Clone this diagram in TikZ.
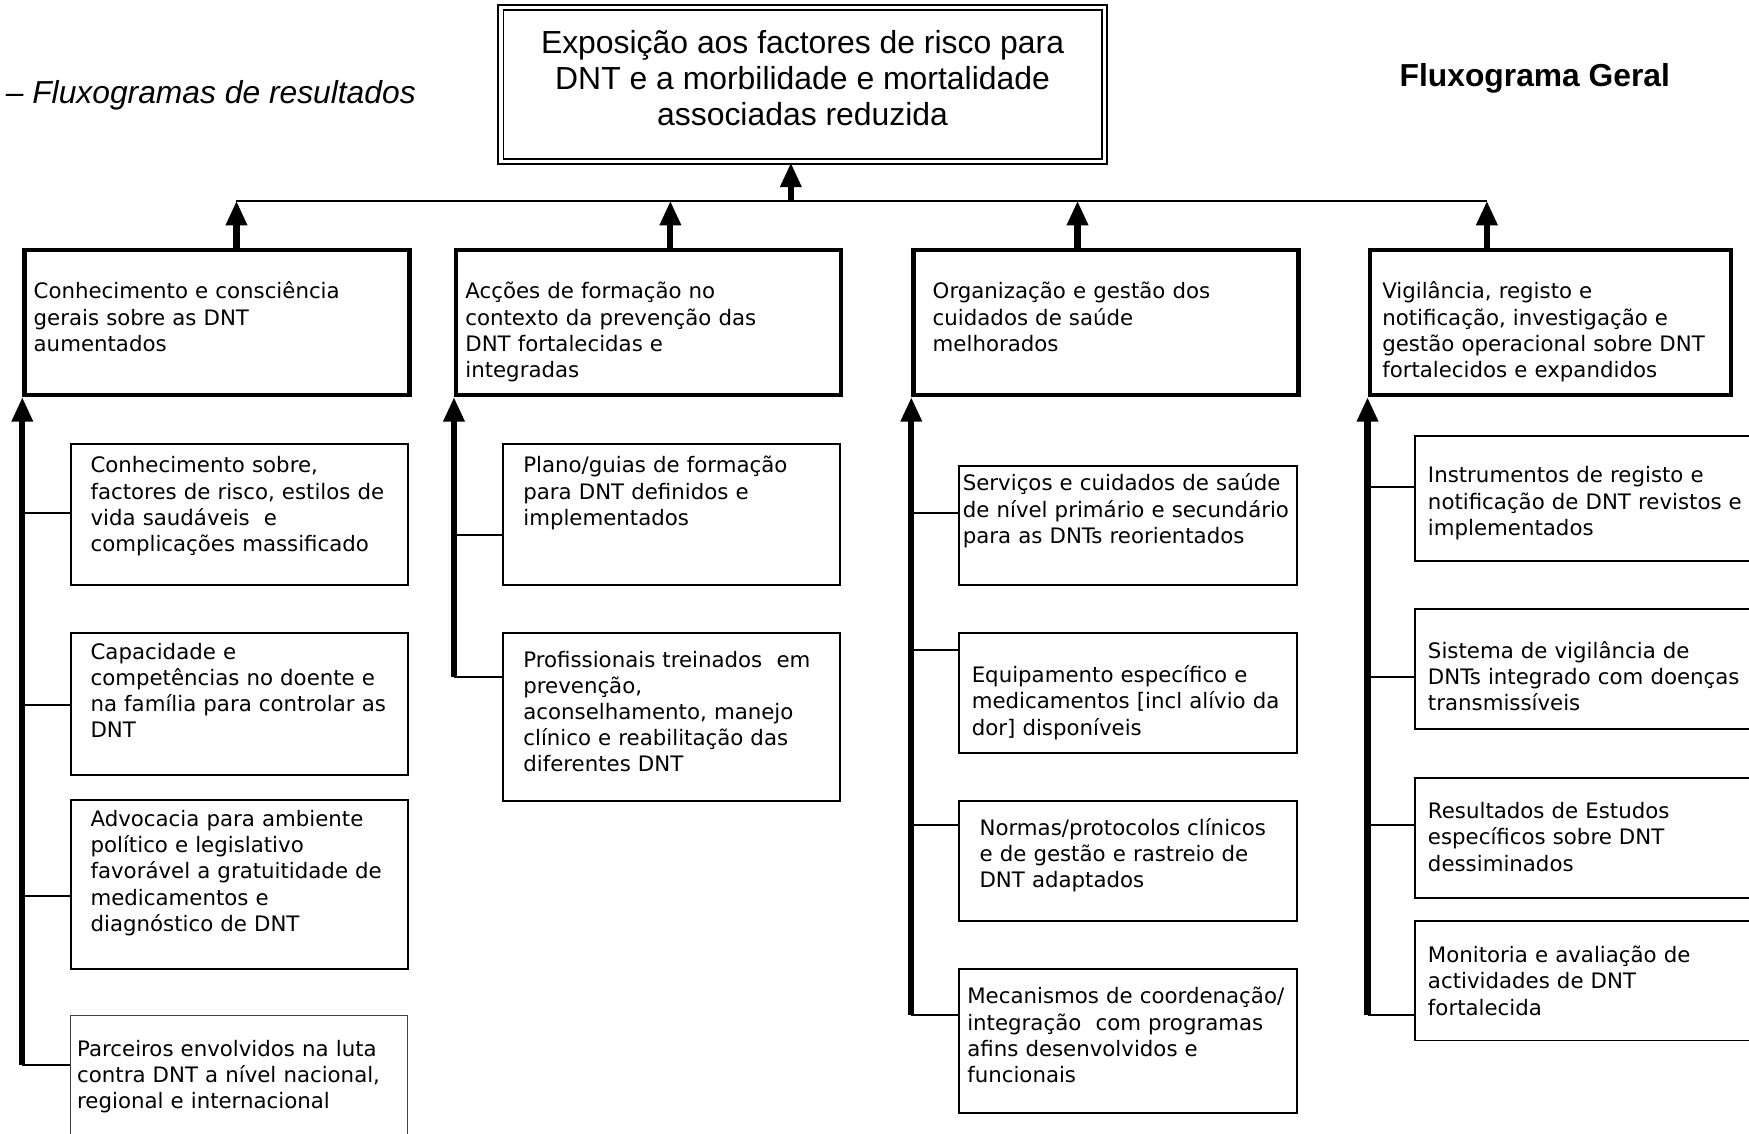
\documentclass[tikz,border=0pt]{standalone}
\usepackage{fontspec}
\setmainfont{DejaVu Sans}
\newfontfamily\arialfont{Liberation Sans}
\usetikzlibrary{arrows.meta, positioning}
\tikzset{
    x=1pt, y=-1pt, % page grid, y grows downwards
    uparrow/.style={ % thick arrows towards the results
        line width=5.5pt,
        -{Triangle[width=18pt,length=22pt]}
    },
    tie/.style={line width=1.8pt} % thin joins
}

\begin{document}
\begin{tikzpicture}
    \tikzset{
        goal/.style={draw,double,line width=1.5pt,double distance=3pt,minimum width=541,minimum height=138,inner sep=0pt},
        goaltxt/.style={align=center,inner sep=0pt,font=\arialfont\fontsize{28.6}{32.5}\selectfont},
        resbox/.style={draw,line width=4pt,anchor=north west,minimum width=345,minimum height=130,inner sep=0pt},
        outbox/.style={draw,line width=1.7pt,anchor=north west,minimum width=302,inner sep=0pt},
        txt/.style={anchor=base west,inner sep=0pt,text width=330,align=left,font=\fontsize{19.1}{23.5}\selectfont},
    }
    \useasboundingbox (0,0) rectangle (1568,1016);
    \clip (0,0) rectangle (1568,1016);
    \fill[white] (0,0) rectangle (1568,1016);

    \node[anchor=west,inner sep=0pt,font=\arialfont\itshape\fontsize{28.5}{34}\selectfont] (sub) at (5,85) {– Fluxogramas de resultados};
    \node[inner sep=0pt,font=\arialfont\bfseries\fontsize{28.5}{34}\selectfont] (head) at (1376,70) {Fluxograma Geral};

    \node[goal] (goal) at (719.5,76) {};
    \node[goaltxt] (goalt) at (719.5,70) {Exposição aos factores de risco para\\DNT e a morbilidade e mortalidade\\associadas reduzida};

    % results
    \node[resbox] (r1) at (20,222) {};
    \node[resbox] (r2) at (407,222) {};
    \node[resbox] (r3) at (817,222) {};
    \node[resbox,minimum width=324] (r4) at (1226,222) {};
    \node[txt] (r1t) at (30,268) {Conhecimento e consciência\\gerais sobre as DNT\\aumentados};
    \node[txt] (r2t) at (417,268) {Acções de formação no\\contexto da prevenção das\\DNT fortalecidas e\\integradas};
    \node[txt] (r3t) at (836,268) {Organização e gestão dos\\cuidados de saúde\\melhorados};
    \node[txt] (r4t) at (1239,268) {Vigilância, registo e\\notificação, investigação e\\gestão operacional sobre DNT\\fortalecidos e expandidos};

    % outputs, column 1
    \node[outbox,minimum height=127] (c1a) at (63,397) {};
    \node[outbox,minimum height=127] (c1b) at (63,567) {};
    \node[outbox,minimum height=152] (c1c) at (63,716) {};
    \node[outbox,minimum height=150,line width=1pt,draw=black!75] (c1d) at (63,910) {};
    \node[txt] (c1at) at (81,424) {Conhecimento sobre,\\factores de risco, estilos de\\vida saudáveis~ e\\complicações massificado};
    \node[txt] (c1bt) at (81,591) {Capacidade e\\competências no doente e\\na família para controlar as\\DNT};
    \node[txt] (c1ct) at (81,741) {Advocacia para ambiente\\político e legislativo\\favorável a gratuitidade de\\medicamentos e\\diagnóstico de DNT};
    \node[txt] (c1dt) at (69,947) {Parceiros envolvidos na luta\\contra DNT a nível nacional,\\regional e internacional};

    % outputs, column 2
    \node[outbox,minimum height=127] (c2a) at (450,397) {};
    \node[outbox,minimum height=150] (c2b) at (450,567) {};
    \node[txt] (c2at) at (469,424) {Plano/guias de formação\\para DNT definidos e\\implementados};
    \node[txt] (c2bt) at (469,598) {Profissionais treinados~ em\\prevenção,\\aconselhamento, manejo\\clínico e reabilitação das\\diferentes DNT};

    % outputs, column 3
    \node[outbox,minimum width=303,minimum height=107] (c3a) at (859,417) {};
    \node[outbox,minimum width=303,minimum height=107] (c3b) at (859,567) {};
    \node[outbox,minimum width=303,minimum height=108] (c3c) at (859,717) {};
    \node[outbox,minimum width=303,minimum height=129] (c3d) at (859,868) {};
    \node[txt] (c3at) at (863,440) {Serviços e cuidados de saúde\\de nível primário e secundário\\para as DNTs reorientados};
    \node[txt] (c3bt) at (871,612) {Equipamento específico e\\medicamentos [incl alívio da\\dor] disponíveis};
    \node[txt] (c3ct) at (878,749) {Normas/protocolos clínicos\\e de gestão e rastreio de\\DNT adaptados};
    \node[txt] (c3dt) at (867,900) {Mecanismos de coordenação/\\integração~ com programas\\afins desenvolvidos e\\funcionais};

    % outputs, column 4
    \node[outbox,minimum width=320,minimum height=112] (c4a) at (1268,390) {};
    \node[outbox,minimum width=320,minimum height=108] (c4b) at (1268,545) {};
    \node[outbox,minimum width=320,minimum height=107] (c4c) at (1268,697) {};
    \node[outbox,minimum width=320,minimum height=107] (c4d) at (1268,825) {};
    \node[txt] (c4at) at (1280,433) {Instrumentos de registo e\\notificação de DNT revistos e\\implementados};
    \node[txt] (c4bt) at (1280,590) {Sistema de vigilância de\\DNTs integrado com doenças\\transmissíveis};
    \node[txt] (c4ct) at (1280,734) {Resultados de Estudos\\específicos sobre DNT\\dessiminados};
    \node[txt] (c4dt) at (1280,863) {Monitoria e avaliação de\\actividades de DNT\\fortalecida};

    % top bar
    \coordinate (hub) at (709,180);
    \coordinate (j1) at (212,180);
    \coordinate (j2) at (601,180);
    \coordinate (j3) at (966,180);
    \coordinate (j4) at (1333,180);
    \draw[tie] (j1) -- (j4);
    \draw[uparrow] (hub) -- (hub |- goal.south);
    \draw[uparrow] (j1 |- r1.north) -- (j1);
    \draw[uparrow] (j2 |- r2.north) -- (j2);
    \draw[uparrow] (j3 |- r3.north) -- (j3);
    \draw[uparrow] (j4 |- r4.north) -- (j4);

    % spines
    \coordinate (k1a) at (20,460);
    \coordinate (k1b) at (20,632);
    \coordinate (k1c) at (20,803);
    \coordinate (k1d) at (20,955);
    \coordinate (k2a) at (407,480);
    \coordinate (k2b) at (407,607);
    \coordinate (k3a) at (817,460);
    \coordinate (k3b) at (817,583);
    \coordinate (k3c) at (817,740);
    \coordinate (k3d) at (817,910);
    \coordinate (k4a) at (1226,437);
    \coordinate (k4b) at (1226,607);
    \coordinate (k4c) at (1226,740);
    \coordinate (k4d) at (1226,910);
    \draw[tie] (k1a) -- (k1a -| c1a.west);
    \draw[tie] (k1b) -- (k1b -| c1b.west);
    \draw[tie] (k1c) -- (k1c -| c1c.west);
    \draw[tie] (k1d) -- (k1d -| c1d.west);
    \draw[tie] (k2a) -- (k2a -| c2a.west);
    \draw[tie] (k2b) -- (k2b -| c2b.west);
    \draw[tie] (k3a) -- (k3a -| c3a.west);
    \draw[tie] (k3b) -- (k3b -| c3b.west);
    \draw[tie] (k3c) -- (k3c -| c3c.west);
    \draw[tie] (k3d) -- (k3d -| c3d.west);
    \draw[tie] (k4a) -- (k4a -| c4a.west);
    \draw[tie] (k4b) -- (k4b -| c4b.west);
    \draw[tie] (k4c) -- (k4c -| c4c.west);
    \draw[tie] (k4d) -- (k4d -| c4d.west);
    \draw[uparrow] (k1d) -- (r1.south west);
    \draw[uparrow] (k2b) -- (r2.south west);
    \draw[uparrow] (k3d) -- (r3.south west);
    \draw[uparrow] (k4d) -- (r4.south west);
\end{tikzpicture}
\end{document}
